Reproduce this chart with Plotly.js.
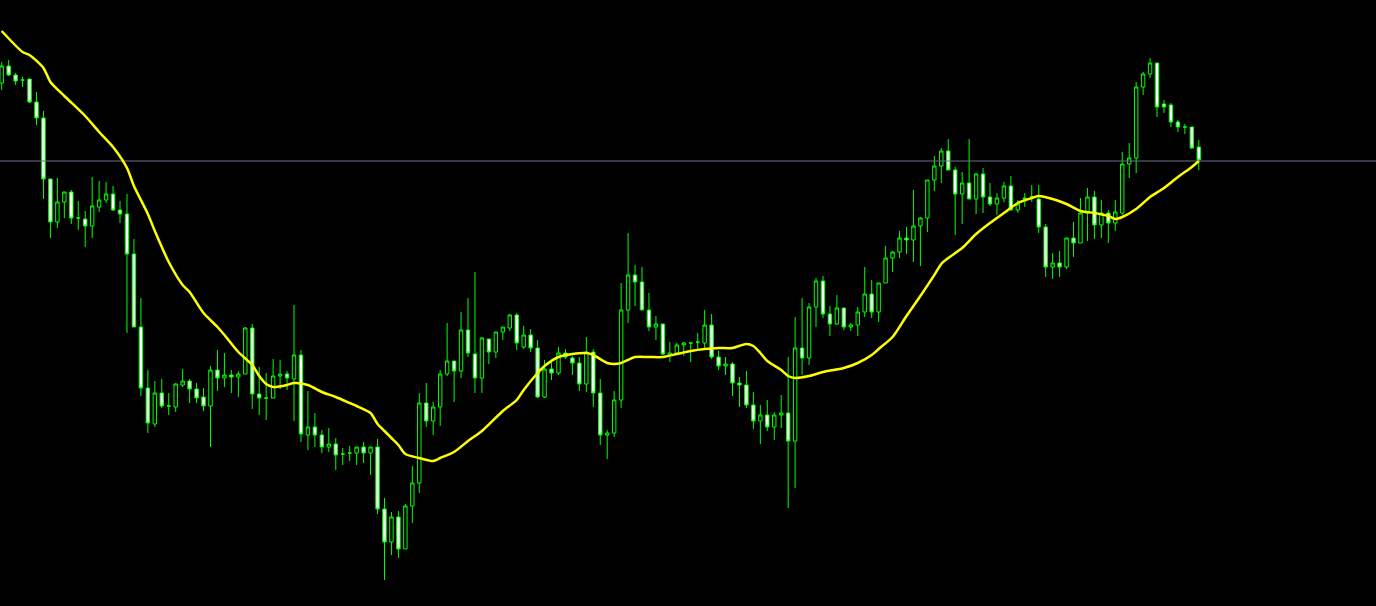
<!DOCTYPE html>
<html>
<head>
<meta charset="utf-8">
<script src="https://cdn.plot.ly/plotly-3.0.1.min.js"></script>
<style>
  html, body { margin: 0; padding: 0; background: #000; }
  #chart { width: 1376px; height: 606px; }
</style>
</head>
<body>
<div id="chart"></div>
<script>
// OHLC price data (one candle per bar, left to right)
const openPrices = [523,540,531,526,527,504,488,427,384,404,414,388,387,380,399,406,412,396,392,352,
  279,218,182,213,200,199,221,225,217,209,200,236,228,231,229,232,278,212,208,208,
  230,232,227,251,171,179,171,159,162,152,153,153,159,153,159,97,64,89,57,100,
  123,203,185,199,232,245,235,276,252,228,267,254,274,278,291,259,271,258,209,237,
  233,253,248,243,222,254,213,171,173,206,296,331,324,296,279,282,251,253,261,263,
  264,263,281,249,240,242,223,221,201,185,191,179,191,193,165,258,248,299,325,292,
  282,298,279,281,294,312,294,323,348,354,368,366,380,388,426,440,455,436,412,423,
  407,432,409,402,408,420,396,408,409,407,379,339,343,339,368,363,393,409,381,393,
  383,393,442,448,519,532,543,502,501,484,479,479,459];
const highPrices = [544,546,533,529,527,514,495,427,428,414,416,405,395,429,425,424,420,405,412,367,
  308,236,225,227,213,223,237,227,223,218,240,256,253,236,235,279,282,239,233,247,
  246,235,301,256,215,193,176,178,168,158,160,159,164,159,167,108,94,95,102,140,
  213,223,204,236,283,245,294,308,334,269,267,274,279,292,293,280,277,266,246,244,
  259,257,250,249,269,257,227,176,215,323,373,341,339,313,290,282,264,263,264,263,
  273,296,292,255,249,244,229,235,214,201,206,194,211,249,289,308,303,328,330,300,
  311,298,283,299,339,326,323,360,355,375,379,416,389,426,450,458,467,439,434,467,
  433,438,423,413,424,430,406,413,421,421,382,353,355,368,384,408,418,415,406,396,
  406,454,463,524,534,548,543,506,503,486,482,479,466];
const lowPrices = [516,530,521,519,503,481,407,368,378,388,382,376,359,368,394,403,395,383,273,279,
  210,173,179,198,191,194,219,203,203,195,159,215,219,213,209,232,197,191,186,208,
  217,216,185,164,156,159,153,154,136,141,145,141,143,131,92,26,51,48,57,83,
  113,179,171,180,230,204,228,249,213,213,242,248,266,275,256,257,254,208,208,226,
  231,247,231,215,214,199,161,147,169,198,283,300,296,275,266,251,244,251,250,244,
  256,256,247,236,231,210,199,198,177,162,175,166,178,98,118,231,241,279,288,270,
  281,276,275,270,289,288,284,323,334,348,352,344,340,374,415,423,436,371,382,407,
  392,393,400,391,404,396,393,399,404,373,329,327,329,337,349,363,365,367,368,363,
  375,391,428,433,511,528,489,493,479,474,472,457,436];
const closePrices = [540,531,525,526,504,488,427,384,404,414,388,388,380,400,406,412,396,392,352,279,
  218,183,213,200,200,222,225,217,208,200,236,228,231,229,232,278,212,208,208,230,
  232,228,251,172,179,171,159,162,151,152,153,159,153,159,97,64,89,57,100,123,
  203,185,199,232,245,235,276,253,228,268,254,274,279,291,263,271,258,209,237,233,
  253,249,243,222,254,213,171,173,206,296,331,324,296,279,282,252,253,261,263,263,
  264,281,249,240,242,223,221,201,185,191,179,191,193,165,258,248,299,325,292,282,
  298,279,281,294,312,294,323,348,354,368,366,380,388,426,440,455,436,412,423,407,
  432,409,402,408,420,396,402,407,409,379,339,343,339,368,363,393,409,381,393,383,
  394,442,448,519,532,543,499,499,484,479,479,458,446];

// Moving average (yellow line), read at these bar indices
const maIndex = [0,3,4,6,7,9,12,14,16,18,19,21,22,24,26,27,29,31,32,34,36,37,38,39,41,42,44,46,48,50,
  51,53,54,55,56,57,58,60,62,63,65,67,69,72,74,75,77,78,80,82,84,85,87,88,89,91,93,95,97,99,
  101,103,105,107,108,109,110,112,113,114,116,118,121,123,125,126,128,130,132,134,135,136,138,140,142,144,146,148,149,151,
  153,155,157,159,160,161,163,165,167,169,171,172];
const maValues = [575,554,551,538,524,510,490,474,459,438,420,392,375,344,321,314,293,279,271,254,241,230,222,219,221,223,221,214,209,203,
  200,193,182,175,168,161,152,148,145,148,154,165,175,195,206,216,233,240,249,252,253,251,243,242,243,249,249,249,252,255,
  257,258,258,262,260,253,245,236,230,228,230,234,238,243,251,257,269,290,310,331,342,348,358,372,383,393,403,408,410,407,
  402,395,393,390,387,389,397,409,418,429,439,445];

// Current bid level (horizontal line)
const bidLevel = [445];

const barIndex = openPrices.map((_, i) => i);

const candles = {
  type: 'candlestick',
  x: barIndex,
  open: openPrices,
  high: highPrices,
  low: lowPrices,
  close: closePrices,
  increasing: { line: { color: '#00ff00', width: 1 }, fillcolor: '#000000' },
  decreasing: { line: { color: '#00ff00', width: 1 }, fillcolor: '#ffffff' },
  whiskerwidth: 0,
  hoverinfo: 'skip',
  showlegend: false
};

const ma = {
  type: 'scatter',
  mode: 'lines',
  x: maIndex,
  y: maValues,
  line: { color: '#ffff00', width: 2.5, shape: 'spline', smoothing: 0.7 },
  hoverinfo: 'skip',
  showlegend: false
};

const bid = {
  type: 'scatter',
  mode: 'lines',
  x: [-5, 300],
  y: [bidLevel[0], bidLevel[0]],
  line: { color: '#6f6f8a', width: 1 },
  hoverinfo: 'skip',
  showlegend: false
};

const layout = {
  width: 1376,
  height: 606,
  paper_bgcolor: '#000000',
  plot_bgcolor: '#000000',
  margin: { l: 0, r: 0, t: 0, b: 0, pad: 0 },
  showlegend: false,
  boxgap: 0.3,
  xaxis: {
    range: [-0.244, 197.46],
    visible: false,
    showgrid: false,
    zeroline: false,
    rangeslider: { visible: false },
    fixedrange: true
  },
  yaxis: {
    range: [0, 606],
    visible: false,
    showgrid: false,
    zeroline: false,
    fixedrange: true
  }
};

Plotly.newPlot('chart', [bid, candles, ma], layout, { displayModeBar: false, staticPlot: true });
</script>
</body>
</html>
